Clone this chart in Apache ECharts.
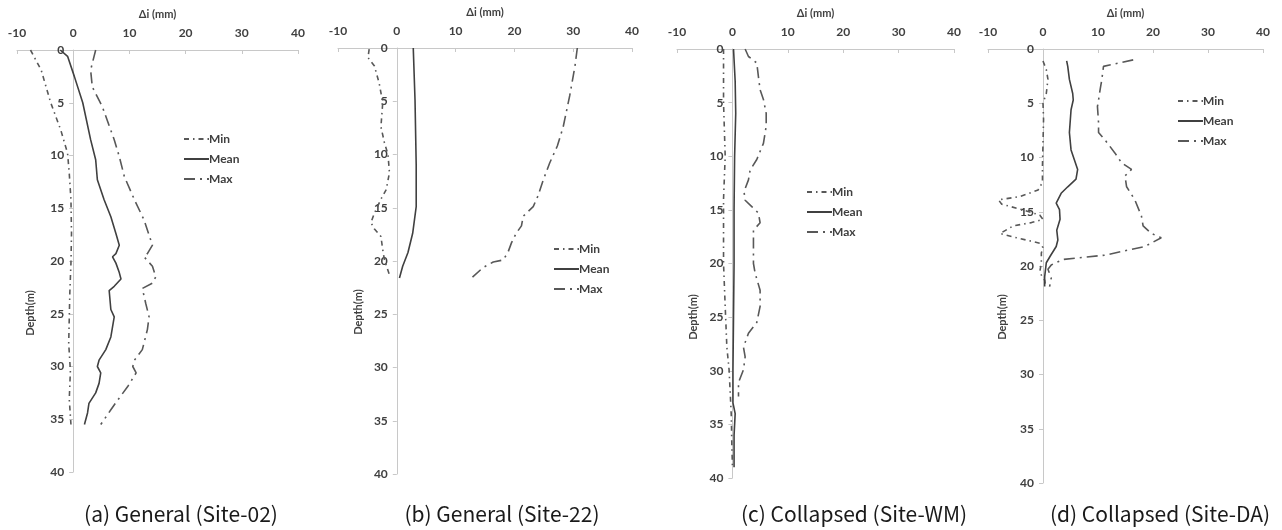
<!DOCTYPE html>
<html><head><meta charset="utf-8">
<script src="https://cdn.jsdelivr.net/npm/echarts@6/dist/echarts.min.js"></script>
<style>html,body{margin:0;padding:0;background:#fff}#c{width:1282px;height:530px}</style>
</head><body><div id="c"></div>
<script>
// Tick labels
const xTicks = [-10, 0, 10, 20, 30, 40];
const yTicks = [0, 5, 10, 15, 20, 25, 30, 35, 40];
const seriesNames = ['Min', 'Mean', 'Max'];
const captions = ['(a) General (Site-02)', '(b) General (Site-22)', '(c) Collapsed (Site-WM)', '(d) Collapsed (Site-DA)'];

// Panel (a) Site-02
const minA_depth = [0, 1.9, 5, 7.6, 9.8, 11.7, 14.2, 17.4, 20.2, 23, 27.8, 30.4, 33.1, 35.5];
const minA = [-7.6, -5.7, -4.0, -2.2, -1.0, -0.7, -0.4, -0.3, -0.4, -0.6, -0.8, -0.5, -0.7, -0.4];
const meanA_depth = [0, 0.6, 2.5, 5, 8.5, 10.4, 12.3, 14.2, 15.8, 17.4, 18.5, 19.3, 19.6, 20.2, 21.1, 21.7, 22.4, 22.8, 24.6, 25.3, 27.2, 28.4, 29.4, 30, 30.6, 31.6, 32.5, 33.5, 34.4, 35.5];
const meanA = [-2.3, -1.0, 0.2, 1.7, 3.1, 4.0, 4.3, 5.5, 6.7, 7.6, 8.2, 7.6, 7.0, 7.6, 8.2, 8.5, 7.3, 6.4, 6.7, 7.3, 6.7, 5.8, 4.6, 4.3, 4.9, 4.6, 4.0, 2.8, 2.55, 2.0];
const maxA_depth = [0, 1.9, 3.5, 5.4, 8.5, 10.1, 12, 14.2, 16.1, 18.5, 19.3, 19.6, 20.5, 21.5, 22.1, 22.6, 24, 25.3, 26.5, 28.4, 29.4, 30, 30.6, 31.9, 33.2, 34.1, 35.5];
const maxA = [4.0, 3.1, 3.4, 5.2, 7.3, 8.2, 9.1, 10.9, 12.6, 14.1, 13.2, 12.6, 14.1, 14.7, 14.1, 12.3, 12.9, 13.5, 13.2, 12.3, 10.9, 10.6, 11.2, 9.7, 7.9, 6.7, 4.9];

// Panel (b) Site-22
const minB_depth = [0.1, 0.9, 1.7, 3.3, 4.2, 5.2, 7.4, 8.9, 10, 11.7, 13.3, 14.2, 15.5, 16.4, 17, 17.7, 18.9, 19.9, 21.3];
const minB = [-4.7, -4.9, -3.8, -3.0, -2.7, -2.4, -2.7, -2.1, -1.5, -1.25, -1.8, -2.7, -3.8, -4.4, -3.8, -2.7, -2.4, -2.1, -1.25];
const meanB_depth = [0, 4.9, 11, 14.9, 17.4, 19.2, 20.5, 21.6];
const meanB = [2.8, 3.1, 3.3, 3.3, 2.7, 1.9, 1.0, 0.45];
const maxB_depth = [0, 1.7, 4.5, 7.4, 9.2, 10.8, 12.4, 13.9, 14.9, 15.8, 16.7, 17.4, 18.3, 19.2, 19.9, 20.1, 20.6, 21.6];
const maxB = [30.7, 30.3, 29.4, 28.3, 27.3, 26.0, 24.9, 24.0, 23.2, 21.5, 21.2, 20.3, 19.5, 18.9, 18.1, 16.4, 14.7, 12.7];

// Panel (c) Site-WM
const minC_depth = [0, 5, 10, 14, 20, 24, 27.8, 29.9, 32, 34.2, 37, 38.8];
const minC = [-1.6, -1.6, -1.3, -1.6, -1.6, -1.3, -1.0, -0.6, -0.4, -0.2, -0.1, 0];
const meanC_depth = [0, 3, 6, 10, 15, 20, 25, 30, 33, 34, 36, 39];
const meanC = [0.2, 0.5, 0.6, 0.4, 0.3, 0.3, 0.2, 0.1, 0.1, 0.5, 0.3, 0.3];
const maxC_depth = [0, 0.7, 1.3, 2.6, 3.8, 4.7, 6, 7.2, 8.8, 10.3, 11.3, 12.2, 13.3, 14.1, 14.7, 15.3, 16.2, 16.9, 18.1, 20, 20.9, 22.5, 24, 25.5, 26.5, 27.8, 28.7, 29.9, 31.1, 32.4];
const maxC = [2.3, 2.9, 4.4, 4.7, 5.0, 5.6, 6.1, 6.1, 5.6, 4.4, 3.2, 2.9, 2.1, 2.3, 3.5, 4.7, 5.0, 3.8, 3.8, 3.8, 4.1, 5.0, 5.0, 4.4, 2.9, 2.0, 2.3, 2.0, 1.1, 1.1];

// Panel (d) Site-DA
const minD_depth = [1.1, 1.9, 2.8, 4.1, 5, 6.5, 8.7, 10.8, 12.3, 13, 13.6, 13.9, 14.3, 14.8, 15.3, 15.7, 16.0, 16.3, 17.0, 17.4, 17.9, 18.3, 18.8, 19.7, 20.6, 21.3, 22];
const minD = [0, 0.6, 0.9, 0.6, 0, 0.1, 0, -0.1, -0.1, -0.9, -4.2, -8.1, -7.5, -3.9, -0.6, 0, -2.1, -5.4, -7.8, -4.8, -0.6, 0, -0.3, -0.3, -0.6, 0.3, 0.5];
const meanD_depth = [1.1, 1.6, 2.8, 4.1, 4.7, 5.6, 7.7, 9.3, 10.2, 11.1, 12, 12.7, 13.3, 14.2, 14.8, 15.7, 16.7, 17.6, 18.2, 19.1, 19.7, 21, 21.9];
const meanD = [4.3, 4.5, 4.8, 5.4, 5.5, 5.1, 4.8, 5.1, 5.7, 6.3, 6.0, 4.5, 3.3, 2.4, 3.0, 3.1, 2.5, 2.7, 2.4, 1.3, 0.6, 0.3, 0.3];
const maxD_depth = [1.0, 1.3, 1.6, 2.8, 3.7, 4.7, 5.3, 6.8, 7.7, 8.4, 9.6, 10.5, 11.1, 11.7, 12.7, 13.9, 15.4, 16.3, 17.0, 17.4, 18.2, 19.0, 19.4, 19.9, 20.3, 21.1, 21.9];
const maxD = [16.4, 13.7, 11.0, 10.7, 10.4, 10.1, 9.9, 10.1, 10.1, 11.3, 13.1, 14.3, 16.1, 14.9, 15.2, 16.7, 17.9, 18.2, 19.7, 21.5, 18.5, 11.3, 3.6, 1.5, 0.9, 1.5, 1.2];

const panels = [
  [[minA, minA_depth], [meanA, meanA_depth], [maxA, maxA_depth]],
  [[minB, minB_depth], [meanB, meanB_depth], [maxB, maxB_depth]],
  [[minC, minC_depth], [meanC, meanC_depth], [maxC, maxC_depth]],
  [[minD, minD_depth], [meanD, meanD_depth], [maxD, maxD_depth]]
];

// layout
const grids = [
  {left: 17, top: 50, width: 281, height: 422},
  {left: 338, top: 48, width: 294, height: 426},
  {left: 677, top: 49, width: 277, height: 429},
  {left: 988, top: 49, width: 275, height: 434}
];
const legendPos = [{left: 183, top: 133}, {left: 553, top: 243}, {left: 806, top: 186}, {left: 1177, top: 95}];
const depthLabelPos = [[30, 313], [358, 312], [693, 317], [1002, 317]];
const captionX = [181, 502, 854, 1160];

const FONT = 'Lato, "Liberation Sans", sans-serif';
const axisColor = '#c8c8c8';
const lblColor = '#404040';
const lineStyles = [
  {color: '#585858', width: 1.6, type: [5, 4, 1.5, 4]},
  {color: '#404040', width: 1.6, type: 'solid'},
  {color: '#585858', width: 1.6, type: [11, 5, 2, 5]}
];

const xMin = xTicks[0], xMax = xTicks[xTicks.length - 1];
const xAxis = [], yAxis = [], series = [], legend = [], graphic = [];
grids.forEach((g, i) => {
  xAxis.push({
    type: 'value', gridIndex: i, position: 'top', min: xMin, max: xMax, interval: 10,
    name: 'Δi (mm)', nameLocation: 'middle', nameGap: 30,
    nameTextStyle: {fontFamily: FONT, fontWeight: 'bold', fontSize: 11, color: lblColor},
    axisLine: {onZero: false, lineStyle: {color: axisColor, width: 1}},
    axisTick: {show: true, inside: true, length: 4, lineStyle: {color: axisColor}},
    axisLabel: {fontFamily: FONT, fontWeight: 'bold', fontSize: 12, color: lblColor, margin: 11},
    splitLine: {show: false}
  });
  // y axis drawn at x = 0 of the panel (offset inward from the grid's left edge)
  yAxis.push({
    type: 'value', gridIndex: i, inverse: true, position: 'left',
    offset: -g.width * (0 - xMin) / (xMax - xMin),
    min: yTicks[0], max: yTicks[yTicks.length - 1], interval: 5,
    axisLine: {onZero: false, lineStyle: {color: axisColor, width: 1}},
    axisTick: {show: true, length: 4, lineStyle: {color: axisColor}},
    axisLabel: {fontFamily: FONT, fontWeight: 'bold', fontSize: 12, color: lblColor, margin: 9},
    splitLine: {show: false}
  });
  panels[i].forEach((pair, k) => {
    const vals = pair[0], depths = pair[1];
    series.push({
      type: 'line', name: seriesNames[k], xAxisIndex: i, yAxisIndex: i,
      symbol: 'none', smooth: false, silent: true,
      itemStyle: {color: lineStyles[k].color},
      lineStyle: lineStyles[k],
      data: vals.map((v, j) => [v, depths[j]])
    });
  });
  legend.push({
    orient: 'vertical', left: legendPos[i].left, top: legendPos[i].top,
    itemWidth: 25, itemHeight: 14, itemGap: 8, padding: 0,
    itemStyle: {opacity: 0},
    data: seriesNames.slice(),
    textStyle: {fontFamily: FONT, fontWeight: 'bold', fontSize: 12, color: lblColor, padding: [0, 0, 0, -5]},
    selectedMode: false
  });
  graphic.push({
    type: 'text', x: depthLabelPos[i][0], y: depthLabelPos[i][1], rotation: Math.PI / 2,
    style: {text: 'Depth(m)', fontFamily: FONT, fontWeight: 'bold', fontSize: 11, fill: lblColor, align: 'center', verticalAlign: 'middle'}
  });
  graphic.push({
    type: 'text', x: captionX[i], y: 514,
    style: {text: captions[i], fontFamily: '"Noto Sans CJK KR", sans-serif', fontSize: 21, fill: '#1a1a1a', align: 'center', verticalAlign: 'middle'}
  });
});

const chart = echarts.init(document.getElementById('c'), null, {renderer: 'canvas'});
chart.setOption({
  animation: false, backgroundColor: '#fff',
  grid: grids, xAxis, yAxis, series, legend, graphic
});
</script></body></html>
